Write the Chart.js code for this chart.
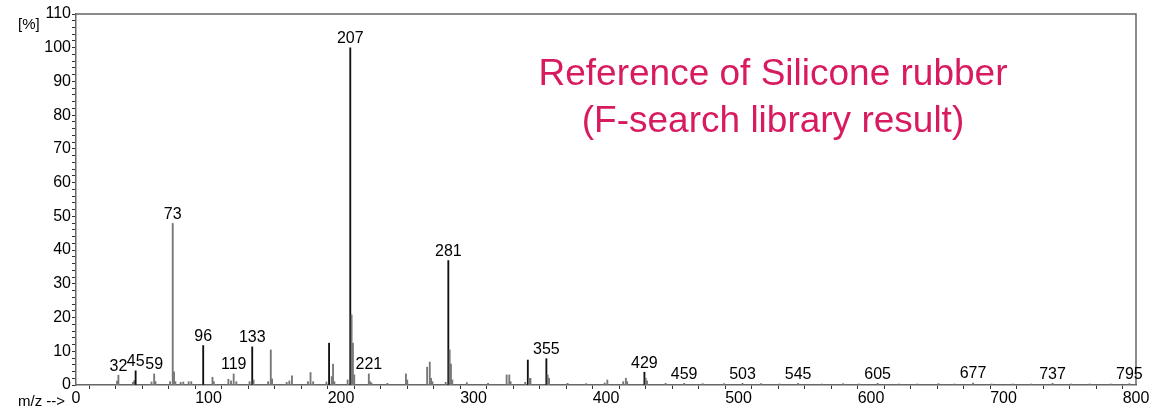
<!DOCTYPE html>
<html>
<head>
<meta charset="utf-8">
<script src="https://cdn.jsdelivr.net/npm/chart.js@4.4.0/dist/chart.umd.min.js"></script>
<style>
  body { margin: 0; background: #fff; }
  #wrap { width: 1161px; height: 412px; }
</style>
</head>
<body>
<div id="wrap"><canvas id="ms"></canvas></div>
<script>
// m/z and relative intensity [%]
const mz = [31, 32, 43, 44, 45, 57, 59, 60, 71, 73, 74, 75, 79, 81, 85, 87, 96, 103, 104, 115, 117, 119, 121,
  131, 133, 134, 145, 147, 148, 159, 161, 163, 175, 177, 179, 189, 191, 193, 194, 195, 205, 207, 208, 209, 210,
  221, 222, 223, 235, 249, 250, 265, 267, 268, 269, 279, 281, 282, 283, 284, 295, 311, 325, 327, 328,
  339, 341, 342, 343, 355, 356, 357, 371, 385, 399, 401, 413, 415, 416, 429, 430, 431, 445, 459, 473, 489,
  503, 517, 531, 545, 563, 579, 591, 605, 621, 635, 651, 663, 677, 691, 707, 721, 737, 751, 765, 781, 795];
const intensity = [1.2, 2.9, 0.8, 1.3, 4.2, 0.9, 3.3, 1.0, 1.0, 47.9, 3.9, 1.0, 0.8, 0.9, 1.0, 1.0, 11.7, 2.3, 1.0, 1.7, 1.2, 3.3, 1.0,
  1.0, 11.3, 1.5, 1.0, 10.4, 1.8, 0.8, 1.2, 2.7, 1.0, 3.7, 1.0, 0.9, 12.4, 2.5, 6.2, 1.0, 1.5, 100, 20.8, 12.4, 3.0,
  3.3, 1.0, 0.6, 0.5, 3.3, 1.5, 5.3, 6.8, 2.0, 1.0, 0.8, 36.9, 10.4, 6.2, 1.5, 0.7, 0.5, 3.0, 3.0, 1.0,
  0.8, 7.4, 2.0, 2.0, 7.8, 3.0, 2.0, 0.5, 0.4, 0.6, 1.5, 1.0, 2.0, 1.0, 3.8, 2.0, 1.2, 0.5, 0.5, 0.4, 0.4,
  0.5, 0.4, 0.3, 0.5, 0.3, 0.4, 0.3, 0.5, 0.3, 0.3, 0.4, 0.3, 0.6, 0.3, 0.3, 0.3, 0.5, 0.3, 0.3, 0.3, 0.4];
// peaks that carry a label
const labelled = [32, 45, 59, 73, 96, 119, 133, 207, 221, 281, 355, 429, 459, 503, 545, 605, 677, 737, 795];
const xTicks = [0, 100, 200, 300, 400, 500, 600, 700, 800];
const yTicks = [0, 10, 20, 30, 40, 50, 60, 70, 80, 90, 100, 110];
const titleLines = ['Reference of Silicone rubber', '(F-search library result)'];

const points = mz.map((m, i) => ({ x: m, y: intensity[i] }));
const blackPeaks = [45, 96, 133, 191, 207, 281, 341, 355, 429];

const extras = {
  id: 'extras',
  afterDraw(chart) {
    const ctx = chart.ctx, a = chart.chartArea;
    const xs = chart.scales.x, ys = chart.scales.y;
    ctx.save();
    ctx.strokeStyle = '#666';
    ctx.lineWidth = 1.5;
    ctx.beginPath();
    ctx.moveTo(a.left, a.top); ctx.lineTo(a.right, a.top); ctx.lineTo(a.right, a.bottom);
    ctx.stroke();
    ctx.fillStyle = '#000';
    ctx.font = '16px "Liberation Sans", Arial, sans-serif';
    ctx.textAlign = 'center';
    ctx.textBaseline = 'bottom';
    labelled.forEach(m => {
      const i = mz.indexOf(m);
      ctx.fillText(String(m), xs.getPixelForValue(m), ys.getPixelForValue(intensity[i]) - 1);
    });
    ctx.textAlign = 'left';
    ctx.textBaseline = 'middle';
    ctx.font = '15px "Liberation Sans", Arial, sans-serif';
    ctx.fillText('[%]', 18, 25);
    ctx.fillText('m/z -->', 18, 402);
    ctx.fillStyle = '#d81b60';
    ctx.font = '37px "Liberation Sans", Arial, sans-serif';
    ctx.textAlign = 'center';
    ctx.fillText(titleLines[0], 773, 75);
    ctx.fillText(titleLines[1], 773, 122);
    ctx.restore();
  }
};

new Chart(document.getElementById('ms'), {
  type: 'bar',
  data: {
    datasets: [{
      data: points,
      barThickness: 1.2,
      backgroundColor: points.map(p => blackPeaks.includes(p.x) ? '#111' : '#777'),
      borderWidth: 0
    }]
  },
  options: {
    responsive: true,
    maintainAspectRatio: false,
    animation: false,
    layout: { padding: { top: 14, right: 25, left: 0, bottom: 0 } },
    plugins: { legend: { display: false }, tooltip: { enabled: false } },
    scales: {
      x: {
        type: 'linear', min: 0, max: 800, offset: false,
        afterFit(s) { s.height = 27; },
        afterBuildTicks(s) { s.ticks = []; for (let v = 0; v <= 800; v += 20) s.ticks.push({ value: v }); },
        ticks: {
          autoSkip: false, maxRotation: 0, color: '#000', padding: 0,
          font: { size: 16, family: '"Liberation Sans", Arial, sans-serif' },
          callback: v => xTicks.includes(v) ? String(v) : ''
        },
        grid: { drawOnChartArea: false, drawTicks: true, tickLength: 4, color: '#333' },
        border: { color: '#666', width: 1.5 }
      },
      y: {
        min: 0, max: 110,
        afterFit(s) { s.width = 76; },
        afterBuildTicks(s) { s.ticks = []; for (let v = 0; v <= 110; v += 2) s.ticks.push({ value: v }); },
        ticks: {
          autoSkip: false, color: '#000', padding: 1,
          font: { size: 16, family: '"Liberation Sans", Arial, sans-serif' },
          callback: v => yTicks.includes(v) ? String(v) : ''
        },
        grid: { drawOnChartArea: false, drawTicks: true, tickLength: 4, color: '#333' },
        border: { color: '#666', width: 1.5 }
      }
    }
  },
  plugins: [extras]
});
</script>
</body>
</html>
